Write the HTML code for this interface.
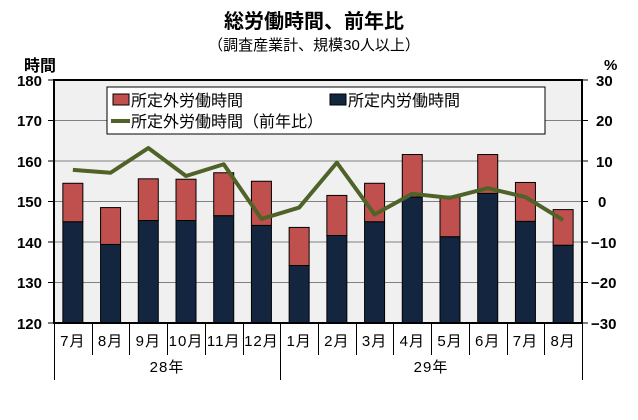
<!DOCTYPE html>
<html><head><meta charset="utf-8"><style>
body{margin:0;background:#fff}
svg text{font-family:"Liberation Sans","Noto Sans CJK JP",sans-serif}
</style></head><body>
<svg width="638" height="415" viewBox="0 0 638 415" xmlns="http://www.w3.org/2000/svg">
<text x="314" y="28" text-anchor="middle" font-size="20" font-weight="bold">総労働時間、前年比</text>
<text x="314" y="50" text-anchor="middle" font-size="15">（調査産業計、規模30人以上）</text>
<text x="24" y="71" font-size="16" font-weight="bold">時間</text>
<text x="604" y="70" font-size="15" font-weight="bold">%</text>
<rect x="54" y="80" width="528" height="243" fill="#f0f0f0"/>
<g stroke="#808080" stroke-width="1">
<line x1="54" y1="120.5" x2="582" y2="120.5"/>
<line x1="54" y1="161" x2="582" y2="161"/>
<line x1="54" y1="201.5" x2="582" y2="201.5"/>
<line x1="54" y1="242" x2="582" y2="242"/>
<line x1="54" y1="282.5" x2="582" y2="282.5"/>
</g>
<g id="bars" stroke="#000" stroke-width="1"></g>
<polyline id="ln" fill="none" stroke="#4f6228" stroke-width="4" stroke-linejoin="round"/>
<rect x="54" y="80" width="528" height="243" fill="none" stroke="#000" stroke-width="2"/>
<g font-size="15" font-weight="bold" text-anchor="end">
<text x="42" y="86">180</text><text x="42" y="126">170</text><text x="42" y="167">160</text><text x="42" y="207">150</text><text x="42" y="248">140</text><text x="42" y="288">130</text><text x="42" y="329">120</text>
</g>
<g font-size="15" font-weight="bold" text-anchor="start">
<text x="596" y="86">30</text><text x="596" y="126">20</text><text x="596" y="167">10</text><text x="598" y="207">0</text><text x="591" y="248">−10</text><text x="591" y="288">−20</text><text x="591" y="329">−30</text>
</g>
<g stroke="#000" stroke-width="1">
<line x1="48" y1="80" x2="54" y2="80"/><line x1="48" y1="120.5" x2="54" y2="120.5"/><line x1="48" y1="161" x2="54" y2="161"/><line x1="48" y1="201.5" x2="54" y2="201.5"/><line x1="48" y1="242" x2="54" y2="242"/><line x1="48" y1="282.5" x2="54" y2="282.5"/><line x1="48" y1="323" x2="54" y2="323"/>
<line x1="582" y1="80" x2="588" y2="80"/><line x1="582" y1="120.5" x2="588" y2="120.5"/><line x1="582" y1="161" x2="588" y2="161"/><line x1="582" y1="201.5" x2="588" y2="201.5"/><line x1="582" y1="242" x2="588" y2="242"/><line x1="582" y1="282.5" x2="588" y2="282.5"/><line x1="582" y1="323" x2="588" y2="323"/>
</g>
<g id="cat" stroke="#000" stroke-width="1"></g>
<g id="mon" font-size="15" text-anchor="middle" letter-spacing="1"></g>
<text x="167" y="372" font-size="15" text-anchor="middle" letter-spacing="1">28年</text>
<text x="431" y="372" font-size="15" text-anchor="middle" letter-spacing="1">29年</text>
<rect x="107" y="87" width="438" height="47" fill="#fff" stroke="#000" stroke-width="1"/>
<rect x="113" y="94" width="16" height="11" fill="#c0504d" stroke="#000"/>
<text x="131" y="106" font-size="16">所定外労働時間</text>
<rect x="330" y="94" width="16" height="11" fill="#14263f" stroke="#000"/>
<text x="348" y="106" font-size="16">所定内労働時間</text>
<line x1="111" y1="121" x2="130" y2="121" stroke="#4f6228" stroke-width="4"/>
<text x="131" y="127" font-size="16">所定外労働時間（前年比）</text>
<script>
var tot=[154.5,148.5,155.6,155.5,157.1,155,143.6,151.5,154.5,161.6,151.3,161.6,154.7,148];
var inn=[145,139.4,145.3,145.3,146.5,144.1,134.2,141.6,145,151.1,141.3,152,145.1,139.2];
var pct=[7.8,7.1,13.2,6.3,9.2,-4.3,-1.5,9.6,-3.2,1.9,0.9,3.3,1.1,-4.6];
var ns="http://www.w3.org/2000/svg",w=528/14,Y=v=>323-(v-120)*4.05,P=v=>201.5-v*4.05;
var b=document.getElementById('bars'),c=document.getElementById('cat'),m=document.getElementById('mon'),pts=[];
var ms=["7月","8月","9月","10月","11月","12月","1月","2月","3月","4月","5月","6月","7月","8月"];
function el(t,a,p){var e=document.createElementNS(ns,t);for(var k in a)e.setAttribute(k,a[k]);p.appendChild(e);return e}
for(var i=0;i<14;i++){var cx=54+w*(i+.5);
el('rect',{x:cx-10,y:Y(inn[i]),width:20,height:323-Y(inn[i]),fill:'#14263f'},b);
el('rect',{x:cx-10,y:Y(tot[i]),width:20,height:Y(inn[i])-Y(tot[i]),fill:'#c0504d'},b);
pts.push(cx+','+P(pct[i]));
var t=el('text',{x:cx,y:346},m);t.textContent=ms[i];}
for(var i=0;i<=14;i++){var x=Math.round(54+w*i)+.5;var e=(i==0||i==6||i==14)?380:355;el('line',{x1:x,y1:323,x2:x,y2:e},c);}
document.getElementById('ln').setAttribute('points',pts.join(' '));
</script>
</svg>
</body></html>
